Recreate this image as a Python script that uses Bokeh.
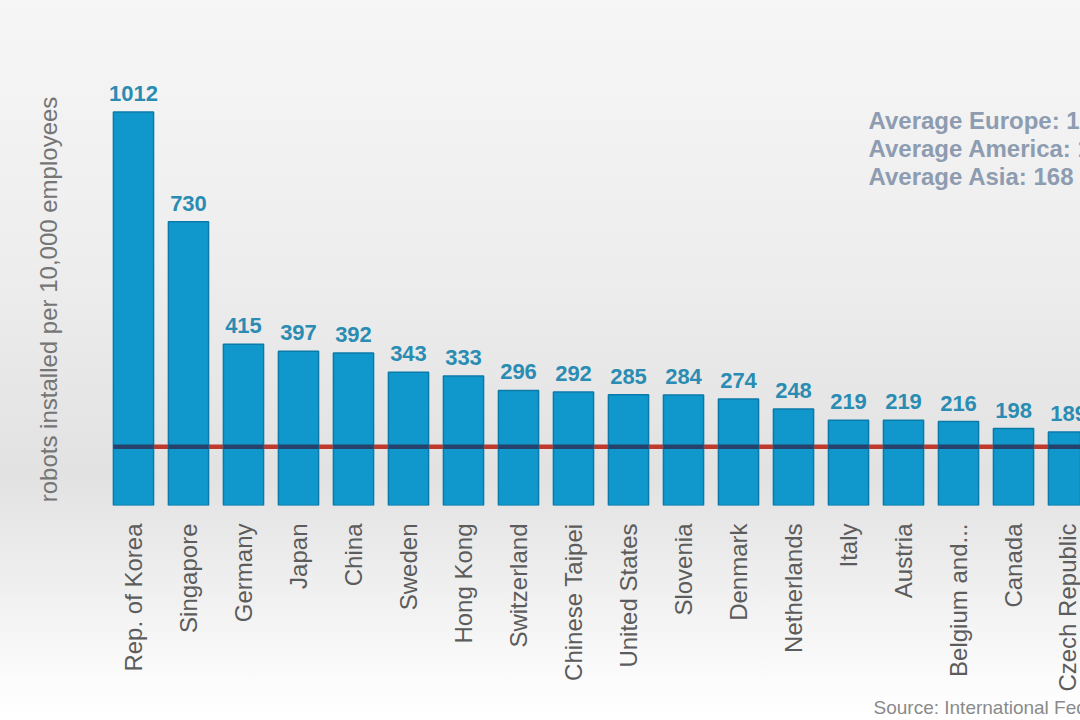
import math
from bokeh.plotting import figure
from bokeh.models import Range1d, FixedTicker, Label, ColumnDataSource, Title
from bokeh.embed import file_html
from bokeh.resources import INLINE
from bokeh.core.properties import value
from bokeh.transform import dodge

countries = ["Rep. of Korea", "Singapore", "Germany", "Japan", "China", "Sweden",
             "Hong Kong", "Switzerland", "Chinese Taipei", "United States", "Slovenia",
             "Denmark", "Netherlands", "Italy", "Austria", "Belgium and...", "Canada",
             "Czech Republic"]
density = [1012, 730, 415, 397, 392, 343, 333, 296, 292, 285, 284, 274, 248, 219, 219, 216, 198, 189]
world_average = 151
region_notes = ["Average Europe: 129", "Average America: 117", "Average Asia: 168"]
y_title = "robots installed per 10,000 employees"
source_note = "Source: International Federation of Robotics"

positions = list(range(len(countries)))
src = ColumnDataSource(dict(x=positions, value=density, label=[str(v) for v in density]))

FONT = "Liberation Sans"
BAR_W = 0.73

p = figure(width=1080, height=720, output_backend="svg", toolbar_location=None,
           x_range=Range1d(-2.236, 17.218), y_range=Range1d(0, 1299),
           min_border_left=10, min_border_right=0, min_border_top=0, min_border_bottom=215)
p.border_fill_color = None
p.background_fill_color = None
p.outline_line_color = None
p.styles = {"background-image": "linear-gradient(to bottom, #f6f6f6 0%, #eeeeee 35%, #e2e2e2 66%, #eeeeee 80%, #fcfcfc 95%, #ffffff 100%)"}
p.xgrid.visible = False
p.ygrid.visible = False
p.yaxis.visible = False

# world average line (red between bars)
p.ray(x=[positions[0]], y=[world_average], length=0, angle=0,
      line_color="#c0392b", line_width=4.5)

p.vbar(x="x", top="value", width=BAR_W, source=src,
       fill_color="#1098cc", line_color="#0b7aa9", line_width=1.5)

# darker part of the line crossing each bar
p.segment(x0=dodge("x", -BAR_W / 2), x1=dodge("x", BAR_W / 2),
          y0=world_average, y1=world_average, source=src,
          line_color="#26416a", line_width=4.5)

p.text(x="x", y="value", text="label", source=src, text_align="center",
       text_baseline="bottom", y_offset=-11, text_font=value(FONT),
       text_font_style="bold", text_font_size="22px", text_color="#2a8cb2")

ax = p.xaxis[0]
ax.ticker = FixedTicker(ticks=positions)
ax.major_label_overrides = {i: c for i, c in zip(positions, countries)}
ax.major_label_orientation = math.pi / 2
ax.major_tick_line_color = None
ax.minor_tick_line_color = None
ax.axis_line_color = None
ax.major_label_standoff = 12
ax.major_label_text_font = FONT
ax.major_label_text_font_size = "24px"
ax.major_label_text_color = "#5c5c5c"

p.add_layout(Label(x=-1.545, y=530, text=y_title, angle=math.pi / 2,
                   text_align="center", text_baseline="middle", text_font=FONT,
                   text_font_size="24px", text_color="#757575"))

for k, note in enumerate(region_notes):
    p.add_layout(Label(x=13.364, y=990.5 - k * 72, text=note, text_align="left",
                       text_baseline="middle", text_font=FONT, text_font_style="bold",
                       text_font_size="24px", text_color="#8d9cb0"))

p.add_layout(Title(text=source_note, align="left", offset=863, standoff=0,
                   text_font=FONT, text_font_size="19px", text_font_style="normal",
                   text_color="#8a8a8a"), "below")

html = file_html(p, INLINE)
html = html.replace("<body>", "<body style=\"margin:0;background:#ffffff\">")
open("out.html", "w").write(html)
